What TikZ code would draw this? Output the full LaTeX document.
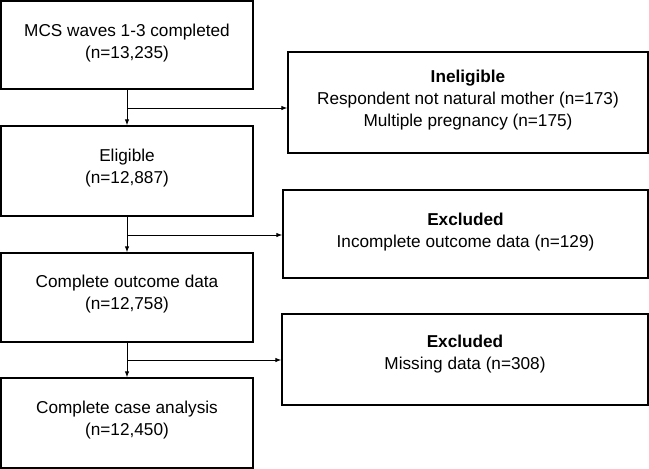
\documentclass[tikz,border=0pt]{standalone}
\usepackage{fontspec}
\setmainfont{Liberation Sans}
\usetikzlibrary{arrows.meta}
\tikzset{
  box/.style={draw=black, line width=1.3pt, rectangle, inner sep=0pt},
  txt/.style={align=center, font=\fontsize{17.2}{22}\selectfont, inner sep=0pt},
  arr/.style={line width=1pt, -{Latex[length=6pt,width=4.5pt]}},
}
\begin{document}
\begin{tikzpicture}[x=1pt,y=-1pt]
\useasboundingbox (0,0) rectangle (649,469);
% left column boxes
\node[box, minimum width=252pt, minimum height=88pt] (b1) at (127,45) {};
\node[box, minimum width=252pt, minimum height=90pt] (b2) at (127,171) {};
\node[box, minimum width=252pt, minimum height=89pt] (b3) at (127,297.5) {};
\node[box, minimum width=252pt, minimum height=90pt] (b4) at (127,423) {};
% right column boxes
\node[box, minimum width=360pt, minimum height=101pt] (r1) at (468,102.5) {};
\node[box, minimum width=365pt, minimum height=88pt] (r2) at (465.5,234) {};
\node[box, minimum width=366pt, minimum height=91pt] (r3) at (465,359.5) {};
% texts
\node[txt] (t1) at ([yshift=2pt]b1.center) {MCS waves 1-3 completed\\(n=13,235)};
\node[txt] (t2) at ([yshift=3pt]b2.center) {Eligible\\(n=12,887)};
\node[txt] (t3) at ([yshift=3pt]b3.center) {Complete outcome data\\(n=12,758)};
\node[txt] (t4) at ([yshift=3pt]b4.center) {Complete case analysis\\(n=12,450)};
\node[txt] (u1) at ([yshift=2pt]r1.center) {\textbf{Ineligible}\\Respondent not natural mother (n=173)\\Multiple pregnancy (n=175)};
\node[txt] (u2) at ([yshift=2pt]r2.center) {\textbf{Excluded}\\Incomplete outcome data (n=129)};
\node[txt] (u3) at ([yshift=5pt]r3.center) {\textbf{Excluded}\\Missing data (n=308)};
% connectors
\draw[arr] (b1.south) -- (b2.north);
\draw[arr] (b2.south) -- (b3.north);
\draw[arr] (b3.south) -- (b4.north);
\coordinate (j1) at (127,108);
\coordinate (j2) at (127,235);
\coordinate (j3) at (127,360);
\draw[arr] (j1) -- (j1 -| r1.west);
\draw[arr] (j2) -- (j2 -| r2.west);
\draw[arr] (j3) -- (j3 -| r3.west);
\end{tikzpicture}
\end{document}
